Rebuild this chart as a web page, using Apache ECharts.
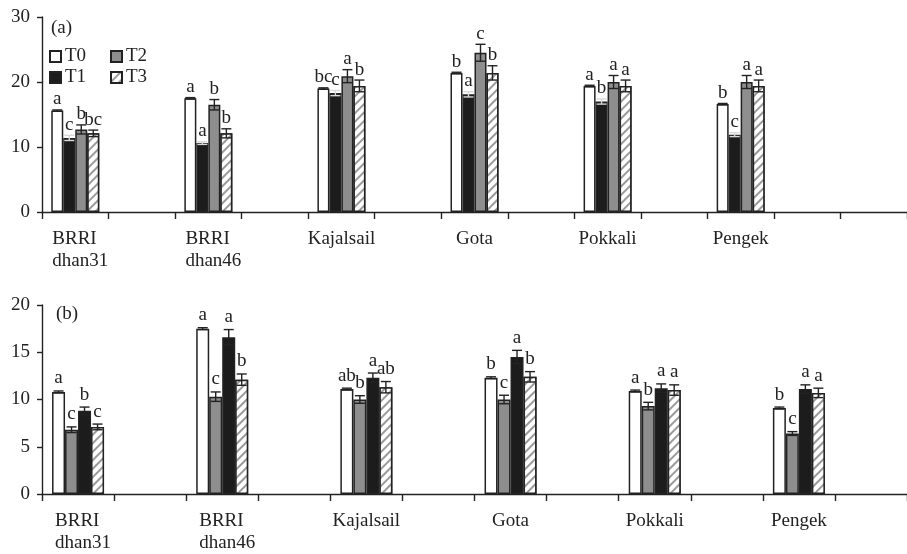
<!DOCTYPE html>
<html>
<head>
<meta charset="utf-8">
<script src="https://cdn.jsdelivr.net/npm/echarts@6/dist/echarts.min.js"></script>
<style>
  html, body { margin: 0; padding: 0; background: #fff; }
  #main { width: 907px; height: 554px; }
</style>
</head>
<body>
<div id="main"></div>
<script>
// varieties on the x axis
var varieties = ['BRRI\ndhan31', 'BRRI\ndhan46', 'Kajalsail', 'Gota', 'Pokkali', 'Pengek'];
var treatments = ['T0', 'T1', 'T2', 'T3'];

// panel (a)
var a_T0 = [15.6, 17.5, 19.0, 21.4, 19.4, 16.6];
var a_T1 = [11.4, 10.6, 18.3, 18.1, 17.0, 11.9];
var a_T2 = [12.7, 16.5, 20.9, 24.5, 20.0, 20.0];
var a_T3 = [12.1, 12.1, 19.4, 21.4, 19.4, 19.4];
var a_T0_err = [0.1, 0.1, 0.1, 0.1, 0.1, 0.1];
var a_T1_err = [0.4, 0.2, 0.4, 0.4, 0.4, 0.3];
var a_T2_err = [0.7, 0.8, 1.0, 1.3, 1.0, 1.0];
var a_T3_err = [0.5, 0.7, 0.9, 1.1, 0.9, 0.9];
var a_T0_sig = ['a', 'a', 'bc', 'b', 'a', 'b'];
var a_T1_sig = ['c', 'a', 'c', 'a', 'b', 'c'];
var a_T2_sig = ['b', 'b', 'a', 'c', 'a', 'a'];
var a_T3_sig = ['bc', 'b', 'b', 'b', 'a', 'a'];

// panel (b)
var b_T0 = [10.8, 17.5, 11.1, 12.3, 10.9, 9.1];
var b_T1 = [6.8, 10.3, 10.0, 10.0, 9.3, 6.4];
var b_T2 = [8.8, 16.6, 12.3, 14.5, 11.2, 11.1];
var b_T3 = [7.1, 12.1, 11.3, 12.4, 11.0, 10.7];
var b_T0_err = [0.1, 0.1, 0.1, 0.1, 0.1, 0.1];
var b_T1_err = [0.3, 0.5, 0.4, 0.45, 0.4, 0.2];
var b_T2_err = [0.4, 0.8, 0.5, 0.7, 0.45, 0.45];
var b_T3_err = [0.3, 0.6, 0.6, 0.55, 0.55, 0.5];
var b_T0_sig = ['a', 'a', 'ab', 'b', 'a', 'b'];
var b_T1_sig = ['c', 'c', 'b', 'c', 'b', 'c'];
var b_T2_sig = ['b', 'a', 'a', 'a', 'a', 'a'];
var b_T3_sig = ['c', 'b', 'ab', 'b', 'a', 'a'];

var FONT = 'Liberation Serif';
var FS = 19;
var INK = '#222';

var hatch = {
  symbol: 'rect', symbolSize: 1, color: '#9a9a9a', backgroundColor: '#fff',
  dashArrayX: [[1, 0]], dashArrayY: [1.5, 4], rotation: -Math.PI / 4
};
var sWhite = { color: '#fff', borderColor: INK, borderWidth: 1.5 };
var sBlack = { color: '#1c1c1c', borderColor: INK, borderWidth: 1.5 };
var sGray = { color: '#8e8e8e', borderColor: INK, borderWidth: 1.5 };
var sHatch = { color: '#fff', borderColor: INK, borderWidth: 1.5, decal: hatch };

// categories with an empty slot after every variety
var catsA = varieties.flatMap(function (v) { return [v, '']; }).concat(['']);
var catsB = varieties.flatMap(function (v) { return [v, '']; });

function spread(vals, n) {
  var out = [];
  for (var i = 0; i < n; i++) out.push(i % 2 === 0 ? vals[i / 2] : '-');
  return out;
}

function barSeries(name, vals, n, style, axis, bw) {
  return {
    name: name, type: 'bar', xAxisIndex: axis, yAxisIndex: axis,
    data: spread(vals, n), barWidth: bw, barGap: '0%',
    itemStyle: style, silent: true
  };
}

function errSeries(name, vals, errs, sigs, idx, axis, bw, lineColor, lift) {
  return {
    name: name, type: 'custom', xAxisIndex: axis, yAxisIndex: axis, z: 5, silent: true,
    data: vals.map(function (v, k) { return [2 * k, v, errs[k]]; }),
    encode: { x: 0, y: 1 },
    renderItem: function (params, api) {
      var c = api.value(0), v = api.value(1), e = api.value(2);
      var hi = api.coord([c, v + e]), lo = api.coord([c, v - e]);
      var x = hi[0] + (idx - 1.5) * bw;
      var hw = 5;
      var ls = { stroke: lineColor, lineWidth: 1.4 };
      return {
        type: 'group',
        children: [
          { type: 'line', shape: { x1: x, y1: hi[1], x2: x, y2: lo[1] }, style: ls },
          { type: 'line', shape: { x1: x - hw, y1: hi[1], x2: x + hw, y2: hi[1] }, style: ls },
          { type: 'line', shape: { x1: x - hw, y1: lo[1], x2: x + hw, y2: lo[1] }, style: ls },
          { type: 'text', style: {
              x: x, y: hi[1] - lift, text: sigs[params.dataIndex],
              fill: INK, font: FS + 'px "' + FONT + '"',
              textAlign: 'center', textVerticalAlign: 'bottom'
          } }
        ]
      };
    }
  };
}

var xAxisCommon = {
  type: 'category',
  axisLine: { lineStyle: { color: INK, width: 1.4 } },
  axisTick: { show: true, interval: 0, length: 7, lineStyle: { color: INK, width: 1.4 } },
  axisLabel: {
    interval: 0, color: INK, fontFamily: FONT, fontSize: FS, lineHeight: 22, margin: 16,
    formatter: function (v) {
      if (v.indexOf('\n') < 0) return v;
      return v.split('\n').map(function (s) { return '{l|' + s + '}'; }).join('\n');
    },
    rich: { l: { align: 'left', color: INK, fontFamily: FONT, fontSize: FS, lineHeight: 22, padding: [0, 0, 0, 10] } }
  },
  splitLine: { show: false }
};
var yAxisCommon = {
  type: 'value', min: 0,
  axisLine: { show: true, lineStyle: { color: INK, width: 1.4 } },
  axisTick: { show: true, length: 5, lineStyle: { color: INK, width: 1.4 } },
  axisLabel: { color: INK, fontFamily: FONT, fontSize: FS, margin: 12, padding: [5, 0, 0, 0] },
  splitLine: { show: false }
};

var styleA = [sWhite, sBlack, sGray, sHatch];
var styleB = [sWhite, sGray, sBlack, sHatch];
var valsA = [a_T0, a_T1, a_T2, a_T3], errA = [a_T0_err, a_T1_err, a_T2_err, a_T3_err], sigA = [a_T0_sig, a_T1_sig, a_T2_sig, a_T3_sig];
var valsB = [b_T0, b_T1, b_T2, b_T3], errB = [b_T0_err, b_T1_err, b_T2_err, b_T3_err], sigB = [b_T0_sig, b_T1_sig, b_T2_sig, b_T3_sig];

var series = [];
treatments.forEach(function (t, i) {
  series.push(barSeries(t, valsA[i], catsA.length, styleA[i], 0, 12));
});
treatments.forEach(function (t, i) {
  series.push(barSeries(t, valsB[i], catsB.length, styleB[i], 1, 13));
});
treatments.forEach(function (t, i) {
  series.push(errSeries(t + ' err', valsA[i], errA[i], sigA[i], i, 0, 12, i === 1 ? '#d8d8d8' : INK, 1));
  series.push(errSeries(t + ' err', valsB[i], errB[i], sigB[i], i, 1, 13, INK, 3));
});

var legendCommon = {
  orient: 'vertical', icon: 'rect', itemWidth: 11, itemHeight: 11, itemGap: 0, padding: 0,
  selectedMode: false,
  textStyle: { color: INK, fontFamily: FONT, fontSize: FS, lineHeight: 21, padding: [0, 0, 0, -1] }
};

var chart = echarts.init(document.getElementById('main'));
chart.setOption({
  animation: false,
  backgroundColor: '#fff',
  title: [
    { text: '(a)', left: 46, top: 14, textStyle: { color: INK, fontFamily: FONT, fontSize: FS, fontWeight: 'normal' } },
    { text: '(b)', left: 51, top: 300, textStyle: { color: INK, fontFamily: FONT, fontSize: FS, fontWeight: 'normal' } }
  ],
  legend: [
    Object.assign({ left: 49, top: 46, data: ['T0', 'T1'] }, legendCommon),
    Object.assign({ left: 110, top: 46, data: ['T2', 'T3'] }, legendCommon)
  ],
  grid: [
    { left: 42, top: 17, height: 195, right: -8 },
    { left: 42, top: 305, height: 194, right: -7 }
  ],
  xAxis: [
    Object.assign({ gridIndex: 0, data: catsA }, xAxisCommon),
    Object.assign({ gridIndex: 1, data: catsB }, xAxisCommon)
  ],
  yAxis: [
    Object.assign({ gridIndex: 0, max: 30, interval: 10 }, yAxisCommon),
    Object.assign({ gridIndex: 1, max: 20, interval: 5 }, yAxisCommon)
  ],
  series: series
});
</script>
</body>
</html>
